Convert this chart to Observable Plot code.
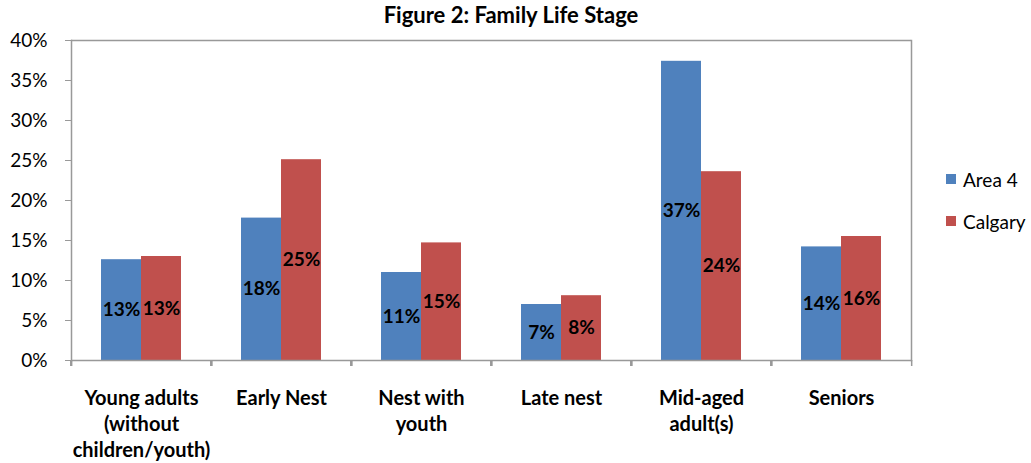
<!DOCTYPE html>
<html><head><meta charset="utf-8">
<script src="https://cdn.jsdelivr.net/npm/d3@7"></script>
<script src="https://cdn.jsdelivr.net/npm/@observablehq/plot@0.6"></script>
<style>
body{margin:0;background:#fff;font-family:Lato,sans-serif;color:#000;}
#wrap{position:relative;width:1031px;height:463px;overflow:hidden;}
#title{position:absolute;left:0;top:0;width:1022px;text-align:center;font-weight:bold;font-size:22px;line-height:30px;z-index:2;}
#chart{position:absolute;left:0;top:20px;}
#legend{position:absolute;left:946px;top:168px;font-size:19px;}
.item{display:flex;align-items:center;height:22px;margin-bottom:20px;white-space:nowrap;}
.sw{width:10px;height:10px;margin-right:7px;}
</style></head><body>
<div id="wrap"><div id="title">Figure 2: Family Life Stage</div><div id="chart"></div><div id="legend"></div></div>
<script>
const categories = ["Young adults (without children/youth)", "Early Nest", "Nest with youth", "Late nest", "Mid-aged adult(s)", "Seniors"];
const categoryLabels = ["Young adults\n(without\nchildren/youth)", "Early Nest", "Nest with\nyouth", "Late nest", "Mid-aged\nadult(s)", "Seniors"];
const series = ["Area 4", "Calgary"];
const area4 = [12.6, 17.8, 11.0, 7.0, 37.4, 14.2];
const calgary = [13.0, 25.1, 14.7, 8.1, 23.6, 15.5];
const yTicks = [0, 5, 10, 15, 20, 25, 30, 35, 40];
const colors = ["#4F81BD", "#C0504D"];

const data = [];
categories.forEach((c, i) => {
  data.push({category: c, series: series[0], value: area4[i]});
  data.push({category: c, series: series[1], value: calgary[i]});
});
const labelMap = new Map(categories.map((c, i) => [c, categoryLabels[i]]));

const W = 1031, H = 443, ML = 70, MR = 119, MT = 20, MB = 103;
const step = (W - ML - MR) / categories.length;
const gray = "#999";

const chart = Plot.plot({
  width: W, height: H, marginTop: MT, marginBottom: MB, marginLeft: ML, marginRight: MR,
  style: {fontFamily: "Lato, sans-serif", fontSize: "19px", color: "#000", background: "transparent"},
  fx: {domain: categories, padding: 0, label: null},
  x: {domain: series, paddingInner: 0, paddingOuter: 0.75, axis: null},
  y: {domain: [0, 40], label: null, axis: null},
  color: {domain: series, range: colors},
  marks: [
    Plot.ruleY([40], {stroke: gray, strokeWidth: 1.5}),
    Plot.frame({anchor: "right", facetAnchor: "right", stroke: gray, strokeWidth: 1.5}),
    Plot.barY(data, {fx: "category", x: "series", y: "value", fill: "series"}),
    Plot.text(data, {fx: "category", x: "series", y: d => d.value / 2, text: d => Math.round(d.value) + "%", fontWeight: "bold", fontSize: 19, fill: "#000"}),
    Plot.ruleY([0], {stroke: gray, strokeWidth: 1.5}),
    Plot.axisY(yTicks, {tickFormat: d => d + "%", tickSize: 6, tickPadding: 18, stroke: gray, fill: "#000", fontSize: 19, label: null}),
    Plot.frame({anchor: "left", facetAnchor: "left", stroke: gray, strokeWidth: 1.5}),
    Plot.axisFx({anchor: "bottom", tickSize: 0, tickPadding: 26, tickFormat: d => labelMap.get(d), fontWeight: "bold", fontSize: 20, lineHeight: 1.3, fill: "#000", label: null}),
    Plot.axisFx(categories, {anchor: "bottom", tickSize: 6, fill: "none", stroke: gray, strokeWidth: 1.5, dx: -step / 2, label: null}),
    Plot.axisFx([categories[categories.length - 1]], {anchor: "bottom", tickSize: 6, fill: "none", stroke: gray, strokeWidth: 1.5, dx: step / 2, label: null})
  ]
});
document.getElementById("chart").appendChild(chart);

const legend = document.getElementById("legend");
series.forEach((s, i) => {
  const item = document.createElement("div");
  item.className = "item";
  const sw = document.createElement("span");
  sw.className = "sw";
  sw.style.background = colors[i];
  const t = document.createElement("span");
  t.textContent = s;
  item.appendChild(sw); item.appendChild(t);
  legend.appendChild(item);
});
</script>
</body></html>
